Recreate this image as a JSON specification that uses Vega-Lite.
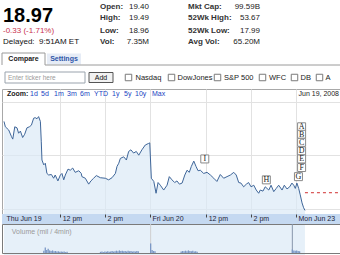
{
 "$schema": "https://vega.github.io/schema/vega-lite/v6.json",
 "padding": {"left": 0, "top": 0, "right": 0, "bottom": 2},
 "spacing": 0,
 "bounds": "flush",
 "config": {"view": {"stroke": null}, "font": "Liberation Sans", "text": {"font": "Liberation Sans"}},
 "datasets": {
  "price": [
   {"t":0.00,"p":20.63},{"t":0.06,"p":20.53},{"t":0.21,"p":20.47},{"t":0.33,"p":20.35},{"t":0.39,"p":20.30},{"t":0.48,"p":20.53},{"t":0.58,"p":20.51},{"t":0.65,"p":20.41},{"t":0.73,"p":20.45},{"t":0.83,"p":20.33},{"t":0.92,"p":20.39},{"t":1.02,"p":20.51},{"t":1.13,"p":20.53},{"t":1.22,"p":20.56},{"t":1.32,"p":20.69},{"t":1.39,"p":20.70},{"t":1.47,"p":20.68},{"t":1.54,"p":20.72},{"t":1.62,"p":20.63},{"t":1.66,"p":20.25},{"t":1.69,"p":19.91},{"t":1.77,"p":19.82},{"t":1.84,"p":19.85},{"t":1.91,"p":19.66},{"t":1.99,"p":19.63},{"t":2.11,"p":19.64},{"t":2.21,"p":19.57},{"t":2.28,"p":19.63},{"t":2.40,"p":19.52},{"t":2.51,"p":19.63},{"t":2.58,"p":19.66},{"t":2.66,"p":19.54},{"t":2.73,"p":19.63},{"t":2.85,"p":19.74},{"t":2.95,"p":19.72},{"t":3.06,"p":19.76},{"t":3.17,"p":19.68},{"t":3.33,"p":19.71},{"t":3.44,"p":19.66},{"t":3.47,"p":19.60},{"t":3.62,"p":19.57},{"t":3.77,"p":19.46},{"t":3.87,"p":19.52},{"t":3.99,"p":19.57},{"t":4.11,"p":19.62},{"t":4.29,"p":19.58},{"t":4.51,"p":19.57},{"t":4.66,"p":19.54},{"t":4.81,"p":19.58},{"t":4.96,"p":19.66},{"t":5.03,"p":19.79},{"t":5.11,"p":19.85},{"t":5.18,"p":19.94},{"t":5.33,"p":19.97},{"t":5.45,"p":19.91},{"t":5.55,"p":20.07},{"t":5.65,"p":20.10},{"t":5.77,"p":20.04},{"t":5.89,"p":20.07},{"t":6.00,"p":20.00},{"t":6.14,"p":20.10},{"t":6.29,"p":20.19},{"t":6.44,"p":20.22},{"t":6.49,"p":20.23},
   {"t":6.56,"p":19.57},{"t":6.67,"p":19.51},{"t":6.77,"p":19.29},{"t":6.86,"p":19.49},{"t":6.96,"p":19.44},{"t":7.11,"p":19.35},{"t":7.26,"p":19.44},{"t":7.36,"p":19.60},{"t":7.48,"p":19.54},{"t":7.60,"p":19.49},{"t":7.70,"p":19.52},{"t":7.81,"p":19.46},{"t":7.93,"p":19.48},{"t":8.05,"p":19.63},{"t":8.15,"p":19.72},{"t":8.25,"p":19.68},{"t":8.34,"p":19.79},{"t":8.45,"p":19.89},{"t":8.55,"p":19.79},{"t":8.64,"p":19.71},{"t":8.74,"p":19.72},{"t":8.89,"p":19.66},{"t":9.04,"p":19.68},{"t":9.19,"p":19.63},{"t":9.34,"p":19.57},{"t":9.48,"p":19.51},{"t":9.63,"p":19.64},{"t":9.78,"p":19.57},{"t":9.93,"p":19.60},{"t":10.08,"p":19.63},{"t":10.23,"p":19.68},{"t":10.34,"p":19.63},{"t":10.45,"p":19.49},{"t":10.55,"p":19.48},{"t":10.67,"p":19.41},{"t":10.79,"p":19.46},{"t":10.89,"p":19.49},{"t":11.00,"p":19.41},{"t":11.12,"p":19.44},{"t":11.23,"p":19.35},{"t":11.34,"p":19.29},{"t":11.41,"p":19.35},{"t":11.53,"p":19.33},{"t":11.63,"p":19.41},{"t":11.79,"p":19.35},{"t":11.89,"p":19.44},{"t":12.01,"p":19.32},{"t":12.12,"p":19.38},{"t":12.23,"p":19.44},{"t":12.38,"p":19.35},{"t":12.48,"p":19.44},{"t":12.60,"p":19.37},{"t":12.72,"p":19.41},{"t":12.82,"p":19.48},{"t":12.90,"p":19.44},{"t":12.97,"p":19.38},
   {"t":13.04,"p":19.48},{"t":13.12,"p":19.38},{"t":13.19,"p":19.26},{"t":13.27,"p":19.11},{"t":13.34,"p":19.02},{"t":13.40,"p":18.97}
  ],
  "events": [
   {"letter":"A","t":13.25,"p":20.53},{"letter":"B","t":13.25,"p":20.39},{"letter":"C","t":13.25,"p":20.24},{"letter":"D","t":13.25,"p":20.08},{"letter":"E","t":13.25,"p":19.93},{"letter":"F","t":13.25,"p":19.77},{"letter":"G","t":13.11,"p":19.60},{"letter":"H","t":11.68,"p":19.54},{"letter":"I","t":8.94,"p":19.93}
  ],
  "volume": [
   {"t":1.6,"v":0.8},{"t":1.667,"v":1.9},{"t":1.733,"v":1.0},{"t":1.8,"v":1.5},{"t":1.867,"v":0.9},{"t":1.933,"v":0.7},{"t":2.0,"v":0.9},{"t":2.067,"v":0.6},{"t":2.133,"v":0.7},{"t":2.2,"v":0.5},{"t":2.267,"v":0.6},{"t":2.333,"v":0.4},{"t":2.4,"v":0.5},{"t":2.467,"v":0.4},{"t":2.533,"v":0.5},{"t":2.6,"v":0.3},{"t":2.667,"v":0.4},
   {"t":4.2,"v":0.4},{"t":4.267,"v":0.5},{"t":4.333,"v":0.3},{"t":4.4,"v":0.5},{"t":4.467,"v":0.4},{"t":4.533,"v":0.6},{"t":4.6,"v":0.4},{"t":4.667,"v":0.5},{"t":4.733,"v":0.7},{"t":4.8,"v":0.5},{"t":4.867,"v":0.6},{"t":4.933,"v":0.8},{"t":5.0,"v":0.6},{"t":5.067,"v":0.9},{"t":5.133,"v":0.7},{"t":5.2,"v":0.8},{"t":5.267,"v":0.6},{"t":5.333,"v":0.7},{"t":5.4,"v":0.5},{"t":5.467,"v":0.8},{"t":5.533,"v":0.6},{"t":5.6,"v":0.7},{"t":5.667,"v":0.5},{"t":5.733,"v":0.6},{"t":5.8,"v":0.5},{"t":5.867,"v":0.7},{"t":5.933,"v":0.6},
   {"t":6.5,"v":3.3},{"t":6.567,"v":1.0},{"t":6.633,"v":0.7},{"t":6.7,"v":0.6},
   {"t":7.9,"v":0.5},{"t":7.967,"v":0.7},{"t":8.033,"v":0.6},{"t":8.1,"v":0.8},{"t":8.167,"v":0.6},{"t":8.233,"v":0.9},{"t":8.3,"v":0.7},{"t":8.367,"v":0.6},{"t":8.433,"v":0.8},{"t":8.5,"v":0.5},{"t":8.567,"v":0.6},{"t":8.633,"v":0.4},
   {"t":13.0,"v":1.2},{"t":13.067,"v":0.9},{"t":13.133,"v":0.8},{"t":13.2,"v":0.9},{"t":13.267,"v":0.7},{"t":13.333,"v":0.6}
  ]
 },
 "vconcat": [
  {
   "width": 340, "height": 89,
   "encoding": {
    "x": {"field": "c", "type": "quantitative", "axis": null, "scale": {"domain": [1,2,3,4,5,6,7,8,9,10,11,12,13,14,15,16,17,18,19,20,21,22,23], "range": [1,6,21.5,43,62,98,99,126.5,133.5,147,169.5,175.5,186,191.5,215.5,222,258,260.5,267,292.5,298.5,317.5,323.5], "nice": false, "zero": false}},
    "y": {"field": "r", "type": "quantitative", "axis": null, "scale": {"domain": [1,2,3,4,5,6,7,8], "range": [7,18,22,30.5,42,59,65,77.5], "nice": false, "zero": false}}
   },
   "layer": [
    {"data": {"values": [{"c": 5, "r": 6}]}, "mark": {"type": "point", "shape": "M-1,-0.32H1V0.32H-1Z", "size": 1156, "filled": true, "color": "#e6ecf6", "opacity": 1}},
    {"data": {"values": [{"c": 3, "r": 6}]}, "mark": {"type": "point", "shape": "M-1,0.279V-0.279H1V0.279", "size": 1849, "filled": false, "stroke": "#9a9a9a", "strokeWidth": 1, "opacity": 1}},
    {"data": {"values": [{"c": 14, "r": 7}]}, "mark": {"type": "point", "shape": "M-1,0H1", "size": 88209, "filled": false, "stroke": "#9a9a9a", "strokeWidth": 1, "opacity": 1}},
    {"data": {"values": [{"c": 4, "r": 8}]}, "mark": {"type": "point", "shape": "M-1,-0.1375H1V0.1375H-1Z", "size": 6400, "filled": true, "fill": "white", "stroke": "#9aa3ad", "strokeWidth": 1, "opacity": 1}},
    {"data": {"values": [{"c": 7, "r": 8}]}, "mark": {"type": "point", "shape": "M-1,-0.4167H1V0.4167H-1Z", "size": 576, "filled": true, "fill": "#f2f2f2", "stroke": "#555555", "strokeWidth": 1, "opacity": 1}},
    {"data": {"values": [{"c":8,"r":8},{"c":11,"r":8},{"c":15,"r":8},{"c":18,"r":8},{"c":20,"r":8},{"c":22,"r":8}]}, "mark": {"type": "point", "shape": "square", "size": 42, "filled": true, "fill": "white", "stroke": "#7a7a7a", "strokeWidth": 1, "opacity": 1}},
    {"data": {"values": [{"c":1,"r":3,"label":"18.97"}]}, "mark": {"type": "text", "align": "left", "baseline": "alphabetic", "fontSize": 20, "fontWeight": "bold", "color": "#000000"}, "encoding": {"text": {"field": "label"}}},
    {"data": {"values": [{"c":1,"r":4,"label":"-0.33 (-1.71%)"}]}, "mark": {"type": "text", "align": "left", "fontSize": 8, "color": "#c8324f"}, "encoding": {"text": {"field": "label"}}},
    {"data": {"values": [{"c":1,"r":5,"label":"Delayed:\u00a0 9:51AM ET"}]}, "mark": {"type": "text", "align": "left", "fontSize": 8, "color": "#111111"}, "encoding": {"text": {"field": "label"}}},
    {"data": {"values": [{"c":6,"r":1,"label":"Open:"},{"c":6,"r":2,"label":"High:"},{"c":6,"r":4,"label":"Low:"},{"c":6,"r":5,"label":"Vol:"},{"c":13,"r":1,"label":"Mkt Cap:"},{"c":13,"r":2,"label":"52Wk High:"},{"c":13,"r":4,"label":"52Wk Low:"},{"c":13,"r":5,"label":"Avg Vol:"}]}, "mark": {"type": "text", "align": "left", "fontSize": 8, "fontWeight": "bold", "color": "#333333"}, "encoding": {"text": {"field": "label"}}},
    {"data": {"values": [{"c":10,"r":1,"label":"19.40"},{"c":10,"r":2,"label":"19.49"},{"c":10,"r":4,"label":"18.96"},{"c":10,"r":5,"label":"7.35M"},{"c":17,"r":1,"label":"99.59B"},{"c":17,"r":2,"label":"53.67"},{"c":17,"r":4,"label":"17.99"},{"c":17,"r":5,"label":"65.20M"}]}, "mark": {"type": "text", "align": "right", "fontSize": 8, "color": "#222222"}, "encoding": {"text": {"field": "label"}}},
    {"data": {"values": [{"c":3,"r":6,"label":"Compare"}]}, "mark": {"type": "text", "align": "center", "fontSize": 7, "fontWeight": "bold", "color": "#222222"}, "encoding": {"text": {"field": "label"}}},
    {"data": {"values": [{"c":5,"r":6,"label":"Settings"}]}, "mark": {"type": "text", "align": "center", "fontSize": 7, "fontWeight": "bold", "color": "#2e55a8"}, "encoding": {"text": {"field": "label"}}},
    {"data": {"values": [{"c":2,"r":8,"label":"Enter ticker here"}]}, "mark": {"type": "text", "align": "left", "fontSize": 6.5, "color": "#9a9a9a"}, "encoding": {"text": {"field": "label"}}},
    {"data": {"values": [{"c":7,"r":8,"label":"Add"}]}, "mark": {"type": "text", "align": "center", "fontSize": 7, "color": "#111111"}, "encoding": {"text": {"field": "label"}}},
    {"data": {"values": [{"c":9,"r":8,"label":"Nasdaq"},{"c":12,"r":8,"label":"DowJones"},{"c":16,"r":8,"label":"S&P 500"},{"c":19,"r":8,"label":"WFC"},{"c":21,"r":8,"label":"DB"},{"c":23,"r":8,"label":"A"}]}, "mark": {"type": "text", "align": "left", "fontSize": 7.5, "color": "#222222"}, "encoding": {"text": {"field": "label"}}}
   ]
  },
  {
   "width": 340, "height": 125,
   "view": {"stroke": "#a8a8a8"},
   "resolve": {"scale": {"x": "independent"}},
   "layer": [
    {
     "encoding": {
      "x": {"field": "t", "type": "quantitative", "scale": {"domain": [-0.089, 15.049], "nice": false, "zero": false}, "axis": {"values": [2.5, 4.5, 6.5, 9, 11, 13], "grid": true, "gridColor": "#e2e2e2", "labels": false, "ticks": false, "domain": false, "title": null}},
      "y": {"field": "p", "type": "quantitative", "scale": {"domain": [18.903, 21.235], "nice": false, "zero": false}, "axis": {"values": [19, 19.5, 20, 20.5, 21], "grid": true, "gridColor": "#e2e2e2", "labels": false, "ticks": false, "domain": false, "title": null}}
     },
     "layer": [
      {"data": {"name": "price"}, "mark": {"type": "area", "color": "#dce9f7", "opacity": 0.7}},
      {"data": {"name": "price"}, "mark": {"type": "line", "color": "#3f6699", "strokeWidth": 1}},
      {"data": {"values": [{"t": 13.4, "t2": 15.05, "p": 19.30}]}, "mark": {"type": "rule", "color": "#d03030", "strokeDash": [3, 3], "strokeWidth": 1}, "encoding": {"x2": {"field": "t2"}}},
      {"data": {"name": "events"}, "mark": {"type": "point", "shape": "square", "size": 64, "filled": true, "fill": "white", "stroke": "#8a8a8a", "strokeWidth": 1, "opacity": 1}},
      {"data": {"name": "events"}, "mark": {"type": "text", "font": "Liberation Serif", "fontSize": 8, "color": "#222222", "dy": 0.5}, "encoding": {"text": {"field": "letter"}}}
     ]
    },
    {
     "encoding": {
      "x": {"field": "c", "type": "quantitative", "axis": null, "scale": {"domain": [1,2,3,4,5,6,7,8,9,10,11,12], "range": [5,28,39,52,65,78,92,110,122,133,150,337], "nice": false, "zero": false}},
      "y": {"datum": 21.14, "type": "quantitative"}
     },
     "layer": [
      {"data": {"values": [{"c":1,"label":"Zoom:"}]}, "mark": {"type": "text", "align": "left", "fontSize": 7, "fontWeight": "bold", "color": "#222222"}, "encoding": {"text": {"field": "label"}}},
      {"data": {"values": [{"c":2,"label":"1d"},{"c":3,"label":"5d"},{"c":4,"label":"1m"},{"c":5,"label":"3m"},{"c":6,"label":"6m"},{"c":7,"label":"YTD"},{"c":8,"label":"1y"},{"c":9,"label":"5y"},{"c":10,"label":"10y"},{"c":11,"label":"Max"}]}, "mark": {"type": "text", "align": "left", "fontSize": 7, "color": "#1a3fbf"}, "encoding": {"text": {"field": "label"}}},
      {"data": {"values": [{"c":12,"label":"Jun 19, 2008"}]}, "mark": {"type": "text", "align": "right", "fontSize": 7, "color": "#222222"}, "encoding": {"text": {"field": "label"}}}
     ]
    }
   ]
  },
  {
   "width": 340, "height": 10,
   "view": {"fill": "#c5d9f1", "stroke": null},
   "data": {"values": [{"t":0,"label":"Thu Jun 19"},{"t":2.5,"label":"12 pm"},{"t":4.5,"label":"2 pm"},{"t":6.5,"label":"Fri Jun 20"},{"t":9,"label":"12 pm"},{"t":11,"label":"2 pm"},{"t":13,"label":"Mon Jun 23"}]},
   "mark": {"type": "text", "align": "left", "dx": 2.5, "fontSize": 7, "color": "#1c2338"},
   "encoding": {
    "x": {"field": "t", "type": "quantitative", "scale": {"domain": [-0.089, 15.049], "nice": false, "zero": false}, "axis": {"orient": "top", "values": [2.5, 4.5, 6.5, 9, 11, 13], "ticks": true, "tickSize": -3, "tickColor": "#444444", "labels": false, "domain": false, "grid": false, "title": null}},
    "text": {"field": "label"}
   }
  },
  {
   "width": 340, "height": 29,
   "view": {"stroke": "#7a7a7a"},
   "encoding": {
    "x": {"field": "t", "type": "quantitative", "scale": {"domain": [-0.089, 15.049], "nice": false, "zero": false}, "axis": null}
   },
   "layer": [
    {"data": {"values": [{"t": 6.5, "day": "Fri"}, {"t": 13, "day": "Mon"}]}, "mark": {"type": "rule", "strokeWidth": 1}, "encoding": {"color": {"field": "day", "type": "nominal", "scale": {"domain": ["Fri", "Mon"], "range": ["#cfcfcf", "#8796ab"]}, "legend": null}}},
    {"data": {"name": "volume"}, "mark": {"type": "bar", "width": 1.3, "color": "#7b98c6"}, "encoding": {"y": {"field": "v", "type": "quantitative", "scale": {"domain": [0, 10], "nice": false, "zero": true}, "axis": null}}},
    {"data": {"values": [{"t": 0.13, "label": "Volume (mil / 4min)"}]}, "mark": {"type": "text", "align": "left", "fontSize": 7, "color": "#9a9a9a"}, "encoding": {"y": {"datum": 7.4, "type": "quantitative"}, "text": {"field": "label"}}}
   ]
  }
 ]
}
